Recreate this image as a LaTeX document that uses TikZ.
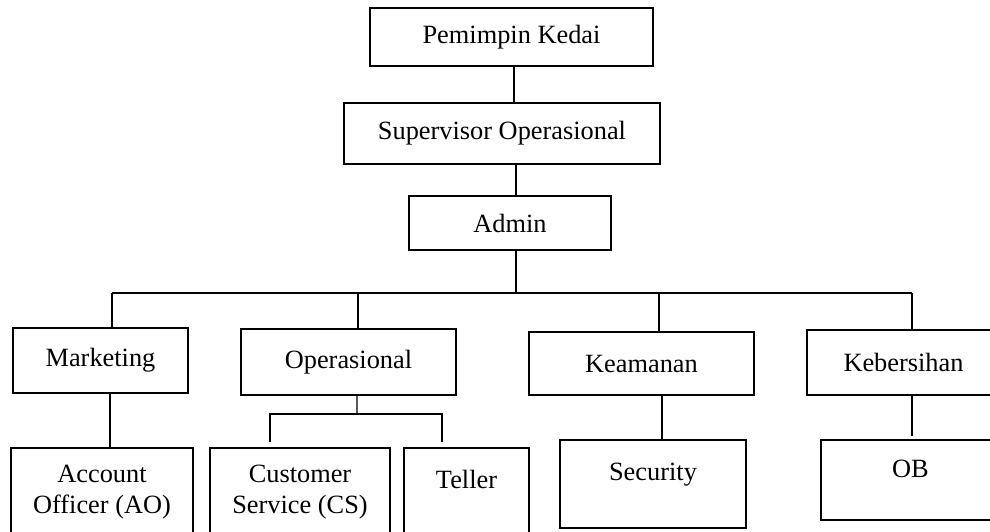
\documentclass[tikz,border=0pt]{standalone}
\usepackage{fontspec}
\setmainfont{Liberation Serif}
\usetikzlibrary{calc}

\begin{document}
\begin{tikzpicture}[
  x=0.02cm, y=-0.02cm,
  box/.style={draw, line width=1.3pt, inner sep=0pt, align=center, font=\fontsize{15}{17.6}\selectfont},
  lowbox/.style={box, anchor=north},
  link/.style={line width=0.6pt}
]
  \useasboundingbox (0,0) rectangle (990,531);
  \clip (0,0) rectangle (990,531);
  % top chain
  \node[box, minimum width=5.66cm, minimum height=1.16cm] (pk) at (511.5,37) {Pemimpin Kedai};
  \node[box, minimum width=6.32cm, minimum height=1.22cm] (so) at (502,133.5) {Supervisor Operasional};
  \node[box, minimum width=4.04cm, minimum height=1.08cm] (ad) at (510,223) {Admin};
  % divisions
  \node[box, minimum width=3.5cm, minimum height=1.3cm] (mk) at (100.5,360.5) {Marketing};
  \node[box, minimum width=4.3cm, minimum height=1.32cm] (op) at (348.5,362) {Operasional};
  \node[box, minimum width=4.5cm, minimum height=1.26cm] (ke) at (641.5,363.5) {Keamanan};
  \node[box, minimum width=3.86cm, minimum height=1.3cm] (kb) at (903.5,362.5) {Kebersihan};
  % staff
  \node[lowbox, minimum width=3.64cm, text height=37.4pt, text depth=26.6pt] (ao) at (102,447) {Account\\Officer (AO)};
  \node[lowbox, minimum width=3.6cm, text height=37.4pt, text depth=26.6pt] (cs) at (300,447) {Customer\\Service (CS)};
  \node[lowbox, minimum width=2.5cm, text height=22.7pt, text depth=41pt] (te) at (466.5,447) {Teller};
  \node[lowbox, minimum width=3.72cm, text height=23.2pt, text depth=26.6pt] (se) at (653,439) {Security};
  \node[lowbox, minimum width=3.58cm, text height=21.5pt, text depth=23.8pt] (ob) at (910.5,439) {OB};

  \draw[link] ($(pk.south)+(2.5,0)$) coordinate (t1) -- (t1 |- so.north);
  \draw[link] ($(so.south)+(14,0)$) coordinate (t2) -- (t2 |- ad.north);
  \coordinate (bus) at (516,293);
  \draw[link] ($(ad.south)+(6,0)$) -- (bus);
  \foreach \n/\dx in {mk/11.5, op/9.5, ke/17.5, kb/8.5}
    \draw[link] ($(\n.north)+(\dx,0)$) coordinate (d\n) -- (d\n |- bus);
  \draw[link] (dmk |- bus) -- (dkb |- bus);

  \draw[link] ($(mk.south)+(9.5,0)$) coordinate (t3) -- (t3 |- ao.north);
  \coordinate (sub) at (357,414);
  \draw[link] ($(op.south)+(8.5,0)$) -- (sub);
  \draw[link] ($(cs.north)+(-30,-5)$) |- (sub) -| ($(te.north)+(-24.5,-5)$);
  \draw[link] ($(ke.south)+(20.5,0)$) coordinate (t4) -- (t4 |- se.north);
  \draw[link] ($(kb.south)+(8.5,0)$) coordinate (t5) -- ($(t5 |- ob.north)+(0,-3)$);
\end{tikzpicture}
\end{document}
